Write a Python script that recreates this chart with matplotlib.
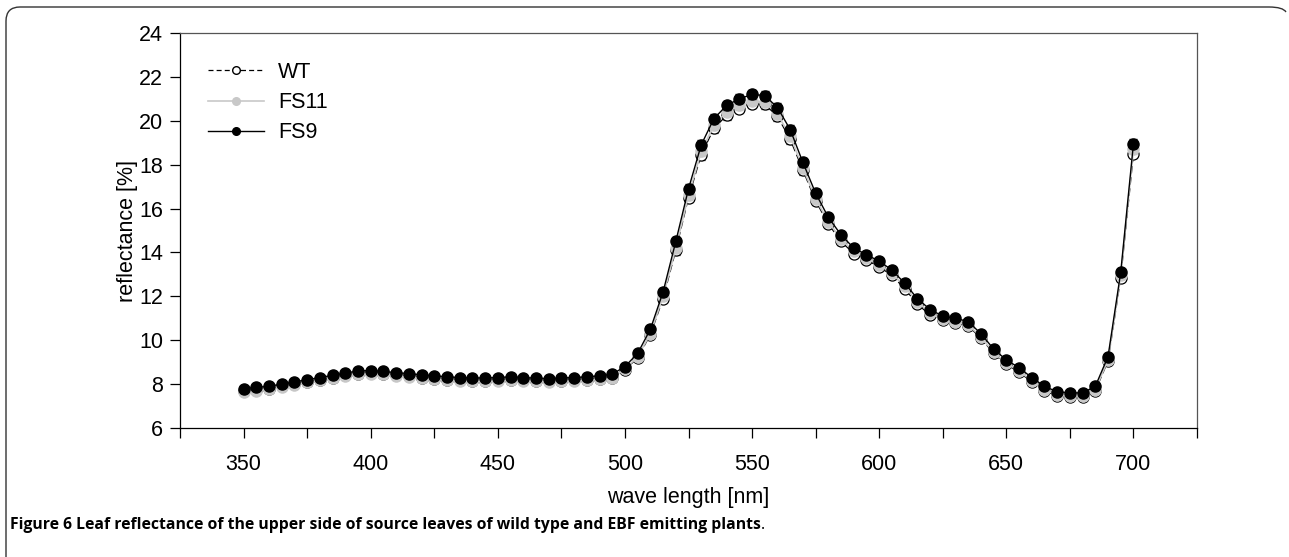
import numpy as np
import matplotlib
matplotlib.use("Agg")
import matplotlib.pyplot as plt
from matplotlib.lines import Line2D
from matplotlib.path import Path
from matplotlib.patches import PathPatch

wavelength = list(range(350, 701, 5))

fs9 = [7.8, 7.85, 7.9, 8.0, 8.1, 8.2, 8.3, 8.4, 8.5, 8.6, 8.62, 8.58, 8.52, 8.48, 8.42, 8.38,
       8.33, 8.3, 8.28, 8.28, 8.3, 8.33, 8.3, 8.27, 8.25, 8.28, 8.3, 8.33, 8.38, 8.45,
       8.8, 9.4, 10.5, 12.2, 14.5, 16.9, 18.9, 20.1, 20.7, 21.0, 21.2, 21.15, 20.6, 19.6,
       18.1, 16.7, 15.6, 14.8, 14.2, 13.9, 13.6, 13.2, 12.6, 11.9, 11.4, 11.1, 11.0, 10.85,
       10.3, 9.6, 9.1, 8.75, 8.3, 7.9, 7.65, 7.6, 7.6, 7.9, 9.25, 13.1, 18.95]

wt = [7.68, 7.73, 7.8, 7.9, 8.0, 8.1, 8.2, 8.3, 8.4, 8.48, 8.5, 8.47, 8.4, 8.35, 8.3, 8.25,
      8.2, 8.17, 8.15, 8.15, 8.18, 8.2, 8.18, 8.15, 8.13, 8.15, 8.18, 8.2, 8.25, 8.3,
      8.65, 9.2, 10.25, 11.9, 14.1, 16.5, 18.45, 19.65, 20.25, 20.55, 20.78, 20.75, 20.2, 19.15,
      17.75, 16.35, 15.3, 14.5, 13.95, 13.65, 13.35, 12.95, 12.35, 11.65, 11.15, 10.9, 10.8, 10.65,
      10.1, 9.4, 8.9, 8.55, 8.1, 7.7, 7.45, 7.42, 7.42, 7.7, 9.05, 12.85, 18.5]

fs11 = [7.65, 7.7, 7.77, 7.87, 7.98, 8.08, 8.18, 8.28, 8.38, 8.46, 8.48, 8.45, 8.38, 8.33, 8.28, 8.23,
        8.18, 8.15, 8.13, 8.13, 8.16, 8.18, 8.16, 8.13, 8.11, 8.13, 8.16, 8.18, 8.23, 8.3,
        8.68, 9.25, 10.3, 12.0, 14.2, 16.6, 18.6, 19.8, 20.4, 20.7, 20.9, 20.85, 20.3, 19.3,
        17.85, 16.45, 15.4, 14.6, 14.05, 13.75, 13.45, 13.05, 12.45, 11.75, 11.25, 10.95, 10.85, 10.7,
        10.15, 9.45, 8.95, 8.6, 8.15, 7.75, 7.5, 7.47, 7.47, 7.75, 9.1, 12.95, 18.7]

err = [0.08] * 30 + [0.1, 0.12, 0.15, 0.18, 0.2, 0.22, 0.22, 0.22, 0.2, 0.2, 0.2, 0.2, 0.2, 0.2,
       0.2, 0.18, 0.16, 0.15, 0.14, 0.13, 0.13, 0.12, 0.12, 0.12, 0.11, 0.1, 0.1, 0.1,
       0.1, 0.1, 0.1, 0.1, 0.1, 0.1, 0.1, 0.1, 0.1, 0.1, 0.12, 0.15, 0.2]

plt.rcParams['font.family'] = ['Liberation Sans', 'DejaVu Sans']

fig = plt.figure(figsize=(12.89, 5.57), dpi=100)
W, H = 1289, 557
ax = fig.add_axes([180 / W, 1 - 428 / H, (1197 - 180) / W, (428 - 33) / H])

ms = 8
ax.errorbar(wavelength, wt, yerr=err, color='black', ls=(0, (6, 3)), lw=0.9,
            marker='o', ms=ms, mfc='white', mec='black', mew=0.9,
            ecolor='black', elinewidth=0.8, capsize=3, zorder=3)
ax.errorbar(wavelength, fs11, yerr=err, color='#c8c8c8', ls='-', lw=1.2,
            marker='o', ms=ms, mfc='#c8c8c8', mec='#c8c8c8',
            ecolor='#bdbdbd', elinewidth=0.8, capsize=3, zorder=4)
ax.errorbar(wavelength, fs9, yerr=err, color='black', ls='-', lw=1.0,
            marker='o', ms=ms, mfc='black', mec='black',
            ecolor='black', elinewidth=0.8, capsize=3, zorder=5)

FS = 15.5
ax.set_xlim(325, 725)
ax.set_ylim(6, 24)
ax.set_xticks(list(range(350, 701, 50)))
ax.set_xticks(list(range(325, 726, 25)), minor=True)
ax.set_yticks(list(range(6, 25, 2)))
ax.tick_params(axis='both', which='both', direction='out', length=7, width=0.9,
               labelsize=FS, top=False, right=False)
ax.tick_params(axis='x', which='major', pad=11.5)
ax.tick_params(axis='y', which='major', pad=5)
for s in ax.spines.values():
    s.set_linewidth(0.9)
for s in ['top', 'right']:
    ax.spines[s].set_color('#555555')

ax.set_xlabel('wave length [nm]', fontsize=FS, labelpad=9)
ax.set_ylabel('reflectance [%]', fontsize=FS, labelpad=1)

handles = [
    Line2D([], [], color='black', ls=(0, (4, 2.5)), lw=0.9, marker='o', ms=5.5, mfc='white', mec='black'),
    Line2D([], [], color='#c8c8c8', ls='-', lw=1.2, marker='o', ms=5.5, mfc='#c8c8c8', mec='#c8c8c8'),
    Line2D([], [], color='black', ls='-', lw=1.0, marker='o', ms=5.5, mfc='black', mec='black'),
]
ax.legend(handles, ['WT', 'FS11', 'FS9'], loc='upper left', frameon=False, fontsize=FS,
          handlelength=2.6, handletextpad=0.65, labelspacing=0.42,
          bbox_to_anchor=(28 / 1017, 1 - 29 / 395), borderaxespad=0, borderpad=0)

# outer rounded frame (partial)
r = 14
verts = [(6, H), (6, 7 + r), (6, 7), (6 + r, 7), (1283 - r, 7), (1283, 7), (1286, 12)]
codes = [Path.MOVETO, Path.LINETO, Path.CURVE3, Path.CURVE3, Path.LINETO, Path.CURVE3, Path.CURVE3]
vf = [(x / W, 1 - y / H) for x, y in verts]
fig.add_artist(PathPatch(Path(vf, codes), transform=fig.transFigure, fill=False,
                         edgecolor='#333333', lw=1.0))

cap = fig.text(10 / W, 1 - 525 / H,
               'Figure 6 Leaf reflectance of the upper side of source leaves of wild type and EBF emitting plants',
               fontsize=11.3, fontweight='bold', family=['Open Sans', 'DejaVu Sans'],
               va='center', ha='left')
fig.canvas.draw()
bb = cap.get_window_extent()
fig.text(bb.x1 / W, 1 - 525 / H, '.', fontsize=11.3, family=['Open Sans', 'DejaVu Sans'],
         va='center', ha='left')

fig.savefig('out.png', dpi=100, facecolor='white')
